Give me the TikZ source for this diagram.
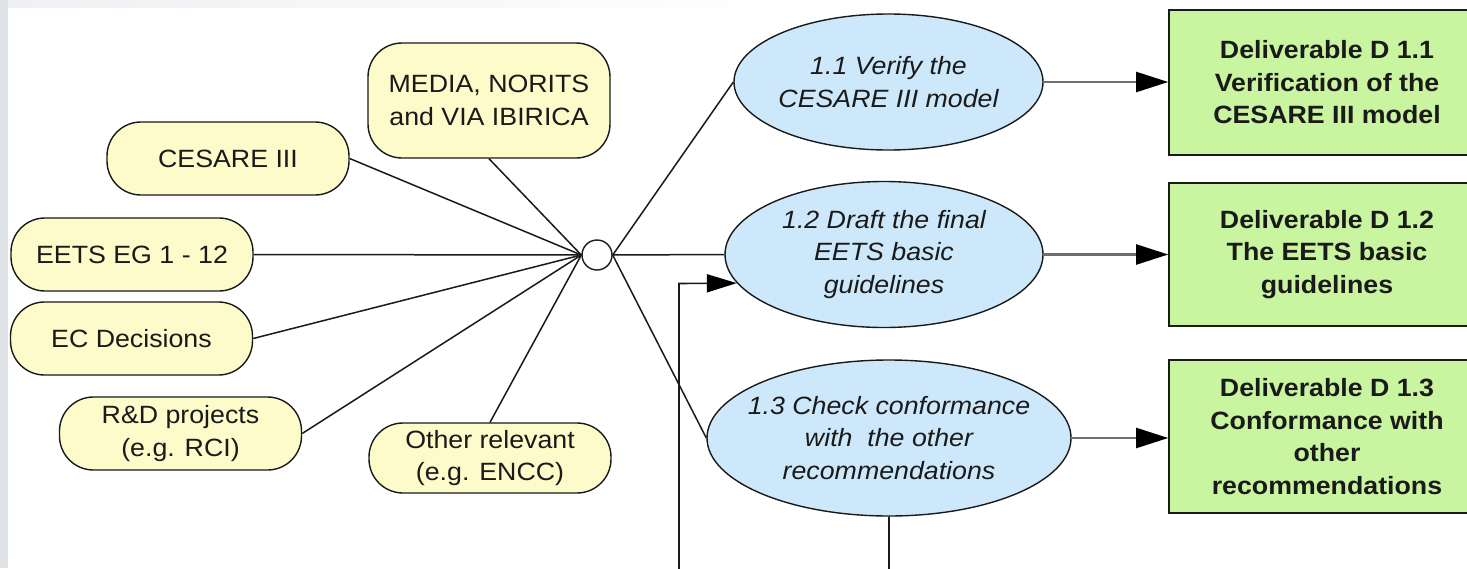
\documentclass[tikz,border=0pt]{standalone}
\usepackage{fontspec}
\setmainfont{Liberation Sans}
\newfontfamily\diafont[FakeStretch=1.07]{Liberation Sans}
\usetikzlibrary{shapes.geometric,arrows.meta}
\definecolor{ylw}{RGB}{253,251,201}
\definecolor{blu}{RGB}{205,232,250}
\definecolor{grn}{RGB}{202,245,160}
\definecolor{ink}{RGB}{26,26,26}
\definecolor{bggrey}{RGB}{222,225,230}
\definecolor{topgrey}{RGB}{238,240,243}
\definecolor{arrgrey}{RGB}{110,110,110}
\begin{document}
\begin{tikzpicture}[x=0.5pt,y=-0.5pt,
  txt/.style={font=\diafont\fontsize{12.5}{16.25}\selectfont, text=ink, align=center, inner sep=0pt},
  src/.style={txt, draw=ink, line width=0.7pt, fill=ylw, rounded corners=17pt,
              minimum width=121pt, minimum height=36.5pt},
  ell/.style={ellipse, draw=ink, line width=0.7pt, fill=blu, inner sep=0pt},
  etxt/.style={txt, font=\diafont\itshape\fontsize{12.5}{16.25}\selectfont},
  dlv/.style={txt, font=\diafont\bfseries\fontsize{12.5}{16.25}\selectfont,
              draw=ink, line width=0.8pt, fill=grn, minimum width=158pt},
  link/.style={draw=ink, line width=0.75pt},
  arr/.style={draw=arrgrey, line width=1.1pt, -{Triangle[length=16pt,width=10pt,fill=black,color=black]}},
  back/.style={draw=ink, line width=0.8pt, -{Triangle[length=15pt,width=9pt,fill=black,color=black]}}
]
\useasboundingbox (0,0) rectangle (1467,568);
\clip (0,0) rectangle (1467,568);
\fill[white] (0,0) rectangle (1467,568);
\shade[left color=topgrey, right color=white] (0,0) rectangle (800,7);
\fill[bggrey] (0,0) rectangle (8,568);

% sources
\node[src, minimum height=57.5pt] (media) at (489,100.5) {MEDIA, NORITS\\and VIA IBIRICA};
\node[src] (cesare) at (228,158.5) {CESARE III};
\node[src] (eets) at (132,254.5) {EETS EG 1 - 12};
\node[src] (ecd) at (131.5,338.5) {EC Decisions};
\node[src] (rnd) at (180.5,433.5) {R\&D projects\\(e.g. RCI)};
\node[src, minimum height=35pt] (oth) at (490,458) {Other relevant\\(e.g. ENCC)};

% hub
\node[circle, draw=ink, fill=white, line width=0.7pt, minimum size=15pt, inner sep=0pt] (hub) at (597,255) {};

% tasks
\node[ell, minimum width=154.5pt, minimum height=68pt] (e11) at (888.5,82) {};
\node[ell, minimum width=159pt, minimum height=73pt] (e12) at (884,254.5) {};
\node[ell, minimum width=182pt, minimum height=78pt] (e13) at (889,438) {};
\node[etxt] (t11) at (e11) {1.1 Verify the\\CESARE III model};
\node[etxt] (t12) at (e12) {1.2 Draft the final\\EETS basic\\guidelines};
\node[etxt] (t13) at (e13) {1.3 Check conformance\\with\ \ the other\\recommendations};

% deliverables
\node[dlv, minimum height=72.5pt] (d1) at (1327,82.5) {Deliverable D 1.1\\Verification of the\\CESARE III model};
\node[dlv, minimum height=71.5pt] (d2) at (1327,254.5) {Deliverable D 1.2\\The EETS basic\\guidelines};
\node[dlv, minimum height=76.5pt] (d3) at (1327,436.5) {Deliverable D 1.3\\Conformance with\\other\\recommendations};

% links into hub
\draw[link] (media.south) -- (hub.west);
\draw[link] (cesare.east) -- (hub.west);
\draw[link] (eets.east) -- (hub.west);
\draw[link] (ecd.east) -- (hub.west);
\draw[link] (rnd.east) -- (hub.west);
\draw[link] (oth.north) -- (hub.west);

% links out of hub
\draw[link] (hub.east) -- (e11.west);
\draw[link] (hub.east) -- (e12.west);
\draw[link] (hub.east) -- (e13.west);

% outputs
\draw[arr] (e11.east) -- (e11.east -| d1.west);
\draw[arr] (e12.east) -- (e12.east -| d2.west);
\draw[arr] (e13.east) -- (e13.east -| d3.west);

% feedback loop
\coordinate (lpb) at (889,600);
\coordinate (lpl) at (679,283.5);
\draw[back] (e13.south) -- (lpb) -| (lpl) -- (e12.191);
\end{tikzpicture}
\end{document}
